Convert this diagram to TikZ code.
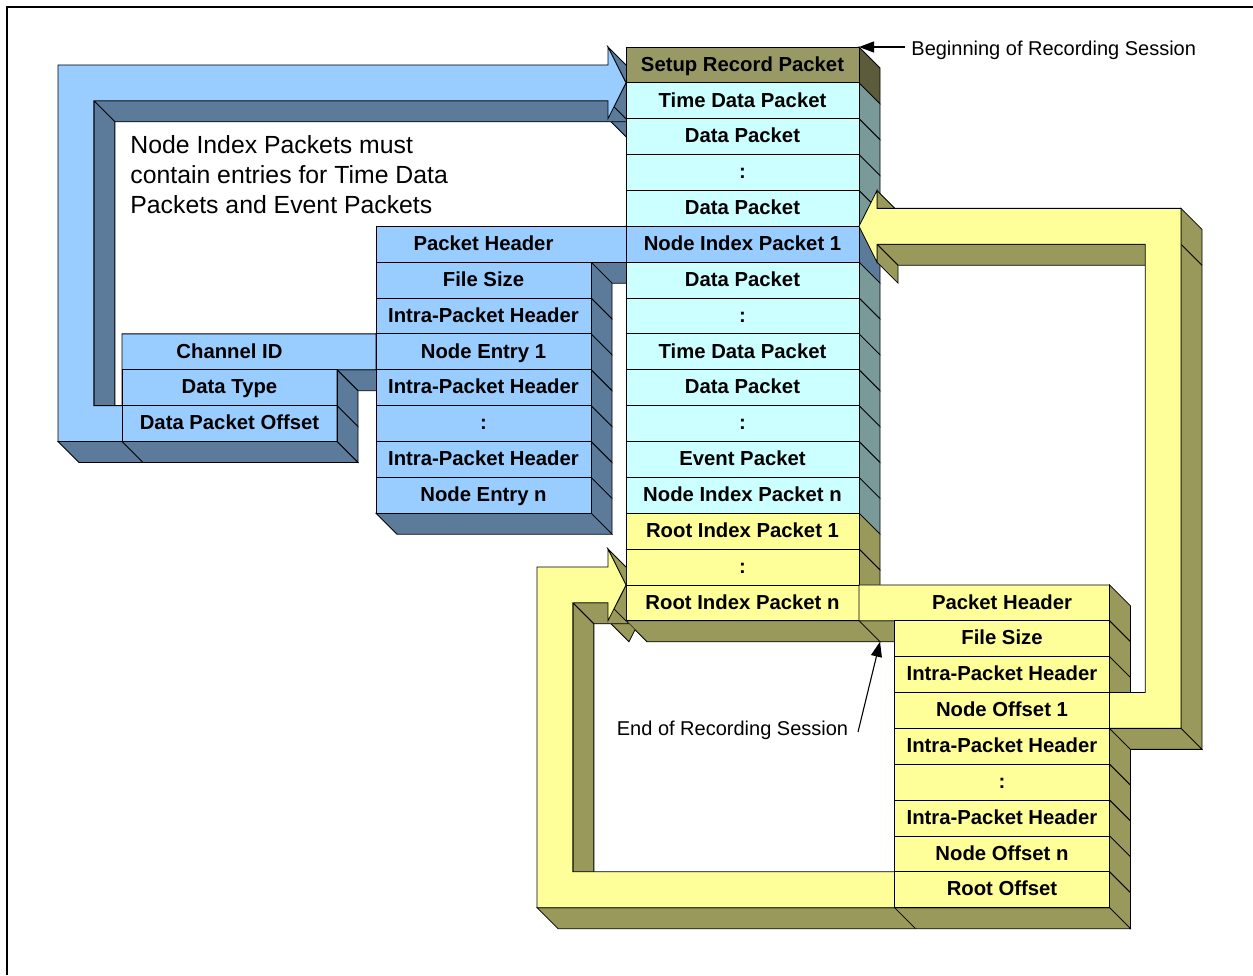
\documentclass[tikz,border=0pt]{standalone}
\usepackage{fontspec}
\setmainfont{Liberation Sans}
\usetikzlibrary{calc,arrows.meta}

\definecolor{cyanF}{HTML}{CCFFFF}
\definecolor{cyanS}{HTML}{7A9999}
\definecolor{blueF}{HTML}{99CCFF}
\definecolor{blueS}{HTML}{5C7A99}
\definecolor{yelF}{HTML}{FFFF99}
\definecolor{yelS}{HTML}{99995C}
\definecolor{oliveF}{HTML}{999966}
\definecolor{oliveS}{HTML}{5C5C3D}

\newcommand\rowfont{\fontsize{20.3}{24}\selectfont\bfseries}
% extruded side face of the edge from #2 to #3, depth (21,21)
\newcommand\sideface[3]{\filldraw[fill=#1] (#2) -- (#3) -- ($(#3)+(21,21)$) -- ($(#2)+(21,21)$) -- cycle;}

\begin{document}
\begin{tikzpicture}[x=1pt,y=-1pt,line width=0.8pt,line join=miter,
  rowbox/.style={draw,minimum height=35.86pt,inner sep=0pt,outer sep=0pt,
    anchor=north west,font=\rowfont,text height=14.5pt,text depth=2pt},
  barrow/.style={rowbox,draw=none},
  note/.style={font=\fontsize{20}{24}\selectfont,inner sep=0pt},
  bignote/.style={font=\fontsize{24.8}{30}\selectfont,inner sep=0pt,anchor=base west},
  pointer/.style={line width=1.1pt,-{Triangle[length=15pt,width=11pt]}}]

\useasboundingbox (0,0) rectangle (1253,975);
\draw[line width=1.5pt] (7,975) -- (7,7) -- (1253,7);

% ---------- channel entry block with the bent arrow to the time data packet
\sideface{blueS}{608,47}{626,82.86}
\sideface{blueS}{626,82.86}{608,118.72}
\sideface{blueS}{608,100.79}{93.86,100.79}
\sideface{blueS}{93.86,100.79}{93.86,405.60}
\sideface{blueS}{376,333.88}{376,369.74}
\sideface{blueS}{376,369.74}{337,369.74}
\sideface{blueS}{337,369.74}{337,405.60}
\sideface{blueS}{337,405.60}{337,441.46}
\sideface{blueS}{337,441.46}{58,441.46}
\draw (122,441.46) -- (143,462.46);
\filldraw[fill=blueF] (58,64.93) -- (608,64.93) -- (608,47) -- (626,82.86) -- (608,118.72)
  -- (608,100.79) -- (93.86,100.79) -- (93.86,405.60) -- (122,405.60) -- (122,333.88)
  -- (376,333.88) -- (376,369.74) -- (337,369.74) -- (337,441.46) -- (58,441.46) -- cycle;
\node[barrow,minimum width=215pt] (h8) at (122,333.88) {Channel ID};
\node[rowbox,minimum width=215pt] (h9) at (122,369.74) {Data Type};
\node[rowbox,minimum width=215pt] (h10) at (122,405.60) {Data Packet Offset};

% ---------- node index packet block
\sideface{blueS}{626,226.30}{626,262.16}
\sideface{blueS}{626,262.16}{591,262.16}
\foreach \k in {6,...,12}{
  \pgfmathsetmacro\ta{47+35.86*\k}
  \pgfmathsetmacro\tb{47+35.86*(\k+1)}
  \sideface{blueS}{591,\ta}{591,\tb}
}
\sideface{blueS}{591,513.18}{376,513.18}
\filldraw[fill=blueF] (376,226.30) -- (626,226.30) -- (626,262.16) -- (591,262.16)
  -- (591,513.18) -- (376,513.18) -- cycle;
\node[barrow,minimum width=215pt] (n5) at (376,226.30) {Packet Header};
\foreach \k/\txt in {6/File Size,7/Intra-Packet Header,8/Node Entry 1,
  9/Intra-Packet Header,10/:,11/Intra-Packet Header,12/Node Entry n}{
  \pgfmathsetmacro\ta{47+35.86*\k}
  \node[rowbox,minimum width=215pt] (n\k) at (376,\ta) {\txt};
}

% ---------- recording session column
\foreach \k/\sc in {0/oliveS,1/cyanS,2/cyanS,3/cyanS,4/cyanS,5/blueS,6/cyanS,7/cyanS,
  8/cyanS,9/cyanS,10/cyanS,11/cyanS,12/cyanS,13/yelS,14/yelS,15/yelS}{
  \pgfmathsetmacro\ta{47+35.86*\k}
  \pgfmathsetmacro\tb{47+35.86*(\k+1)}
  \sideface{\sc}{859,\ta}{859,\tb}
}
\sideface{yelS}{626,620.76}{859,620.76}
\coordinate (cbase) at (880,641.76);
\foreach \k/\txt/\fc in {0/Setup Record Packet/oliveF,1/Time Data Packet/cyanF,
  2/Data Packet/cyanF,3/:/cyanF,4/Data Packet/cyanF,5/Node Index Packet 1/blueF,
  6/Data Packet/cyanF,7/:/cyanF,8/Time Data Packet/cyanF,9/Data Packet/cyanF,
  10/:/cyanF,11/Event Packet/cyanF,12/Node Index Packet n/cyanF,
  13/Root Index Packet 1/yelF,14/:/yelF,15/Root Index Packet n/yelF}{
  \pgfmathsetmacro\ta{47+35.86*\k}
  \node[rowbox,fill=\fc,minimum width=233pt] (c\k) at (626,\ta) {\txt};
}

% ---------- root index packet block with its two bent arrows
\begin{scope}
  \clip (0,0) -- (1253,0) -- (1253,975) -- (0,975) -- (0,620.76) -- (626,620.76)
    -- (647,641.76) -- (880,641.76) -- (859,620.76) -- (859,47) -- (626,47)
    -- (626,620.76) -- (0,620.76) -- cycle;
  \foreach \k in {15,16,17,19,20,21,22,23}{
    \pgfmathsetmacro\ta{47+35.86*\k}
    \pgfmathsetmacro\tb{47+35.86*(\k+1)}
    \sideface{yelS}{1109.5,\ta}{1109.5,\tb}
  }
  \sideface{yelS}{1145.14,244.23}{877,244.23}
  \sideface{yelS}{877,244.23}{877,262.16}
  \sideface{yelS}{877,190.44}{877,208.37}
  \sideface{yelS}{1181,208.37}{1181,728.34}
  \sideface{yelS}{1181,728.34}{1109.5,728.34}
  \sideface{yelS}{1109.5,907.64}{537,907.64}
  \sideface{yelS}{608,549.04}{626,584.90}
  \sideface{yelS}{626,584.90}{608,620.76}
  \sideface{yelS}{608,602.83}{572.86,602.83}
  \sideface{yelS}{572.86,602.83}{572.86,871.78}
  \sideface{yelS}{894.5,620.76}{859,620.76}
\end{scope}
\draw (1181,244.23) -- (1202,265.23);
\draw (894.5,907.64) -- (915.5,928.64);
\filldraw[fill=yelF] (859,584.90) -- (1109.5,584.90) -- (1109.5,692.48) -- (1145.14,692.48)
  -- (1145.14,244.23) -- (877,244.23) -- (877,262.16) -- (859,226.30) -- (877,190.44)
  -- (877,208.37) -- (1181,208.37) -- (1181,728.34) -- (1109.5,728.34) -- (1109.5,907.64)
  -- (537,907.64) -- (537,566.97) -- (608,566.97) -- (608,549.04) -- (626,584.90)
  -- (608,620.76) -- (608,602.83) -- (572.86,602.83) -- (572.86,871.78) -- (894.5,871.78)
  -- (894.5,620.76) -- (859,620.76) -- cycle;
\node[barrow,minimum width=215pt] (r15) at (894.5,584.90) {Packet Header};
\foreach \k/\txt in {16/File Size,17/Intra-Packet Header,18/Node Offset 1,
  19/Intra-Packet Header,20/:,21/Intra-Packet Header,22/Node Offset n,23/Root Offset}{
  \pgfmathsetmacro\ta{47+35.86*\k}
  \node[rowbox,minimum width=215pt] (r\k) at (894.5,\ta) {\txt};
}

% ---------- notes
\node[bignote] (txa) at (130,153) {Node Index Packets must};
\node[bignote] (txb) at (130,183) {contain entries for Time Data};
\node[bignote] (txc) at (130,213) {Packets and Event Packets};

\node[note,inner xsep=6pt,anchor=base west] (beglbl) at (905,55) {Beginning of Recording Session};
\draw[pointer] (beglbl.west |- c0.north east) -- (c0.north east);

\node[note,anchor=base] (endlbl) at (732.5,735) {End of Recording Session};
\coordinate (endtail) at (858,732);
\draw[pointer] (endtail) -- (cbase);
\end{tikzpicture}
\end{document}
